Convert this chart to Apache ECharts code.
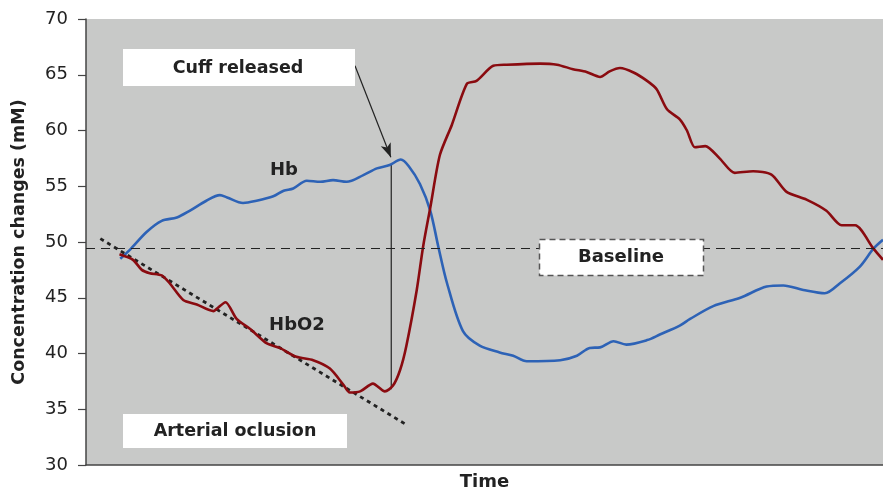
<!DOCTYPE html>
<html>
<head>
<meta charset="utf-8">
<script src="https://cdn.jsdelivr.net/npm/echarts@6/dist/echarts.min.js"></script>
<style>
  html, body { margin: 0; padding: 0; background: #fff; }
  #chart { width: 883px; height: 496px; }
</style>
</head>
<body>
<div id="chart"></div>
<script>
// Deoxygenated haemoglobin (Hb): time (arbitrary units) and concentration (mM)
const hbTime = [4.3, 5.5, 7.6, 9.5, 11.4, 13.0, 15.1, 16.8, 17.7, 19.7, 21.4, 23.5, 24.8, 26.0, 27.7, 29.4, 31.0, 32.7, 34.8, 36.5, 38.1, 39.5, 40.5, 41.9, 43.2, 44.2, 45.3, 47.3, 49.4, 51.9, 53.6, 55.3, 59.5, 61.6, 63.2, 64.5, 66.2, 67.8, 70.4, 72.0, 74.5, 75.8, 78.7, 82.1, 85.4, 87.5, 90.0, 92.7, 94.6, 97.1, 98.8, 100];
const hbValues = [48.5, 49.3, 50.9, 51.9, 52.2, 52.8, 53.7, 54.2, 54.0, 53.5, 53.7, 54.1, 54.6, 54.8, 55.5, 55.4, 55.55, 55.4, 56.0, 56.6, 56.9, 57.4, 56.8, 55.2, 52.8, 49.6, 46.3, 42.0, 40.7, 40.1, 39.8, 39.3, 39.4, 39.8, 40.5, 40.55, 41.1, 40.8, 41.2, 41.7, 42.5, 43.1, 44.25, 45.0, 46.0, 46.1, 45.7, 45.4, 46.3, 47.8, 49.4, 50.2];

// Oxygenated haemoglobin (HbO2)
const hbo2Time = [4.2, 5.9, 7.0, 8.0, 9.5, 10.5, 12.2, 13.9, 16.0, 16.4, 17.5, 18.9, 20.6, 22.7, 24.3, 26.4, 28.5, 30.6, 32.3, 33.1, 34.4, 36.0, 37.5, 38.5, 39.4, 40.2, 41.5, 42.3, 43.2, 44.4, 45.9, 47.8, 49.0, 51.1, 52.8, 57.0, 59.1, 61.1, 62.8, 64.5, 65.7, 67.0, 68.7, 70.4, 71.6, 72.9, 74.5, 75.4, 76.4, 77.7, 79.5, 81.4, 83.7, 86.0, 87.9, 90.4, 92.9, 94.8, 96.5, 98.8, 100];
const hbo2Values = [48.9, 48.4, 47.5, 47.2, 47.0, 46.3, 44.8, 44.4, 43.8, 44.0, 44.6, 43.1, 42.2, 40.9, 40.5, 39.7, 39.4, 38.65, 37.2, 36.5, 36.6, 37.3, 36.6, 37.1, 38.5, 40.7, 45.7, 49.6, 53.1, 57.8, 60.5, 64.2, 64.45, 65.8, 65.9, 66.0, 65.9, 65.5, 65.25, 64.8, 65.3, 65.6, 65.2, 64.45, 63.7, 61.9, 61.0, 60.0, 58.5, 58.6, 57.5, 56.2, 56.35, 56.05, 54.5, 53.8, 52.8, 51.5, 51.5, 49.4, 48.4];

// Trend of HbO2 during arterial occlusion (start / end)
const trendTime = [1.8, 40.0];
const trendValues = [50.3, 33.7];

// Cuff release instant, with Hb and HbO2 levels at that moment
const releaseTime = 38.3;
const releaseValues = [56.9, 36.8];

// Arrow from the "Cuff released" note to the Hb curve
const arrowTime = [33.75, 38.25];
const arrowValues = [65.8, 57.6];

const baselineValue = 49.4;
const yTicks = [30, 35, 40, 45, 50, 55, 60, 65, 70];

const zip = (xs, ys) => xs.map((x, i) => [x, ys[i]]);

const FONT = '"DejaVu Sans", "Liberation Sans", sans-serif';
const TEXT = '#222';

const chart = echarts.init(document.getElementById('chart'), null, { renderer: 'canvas' });

chart.setOption({
  animation: false,
  backgroundColor: '#fff',
  grid: { left: 86, right: 0, top: 19, bottom: 25, show: true, backgroundColor: '#c8c9c8', borderWidth: 0 },
  xAxis: {
    type: 'value', min: 0, max: 100,
    name: 'Time', nameLocation: 'middle', nameGap: 8,
    nameTextStyle: { fontFamily: FONT, fontWeight: 'bold', fontSize: 18, color: TEXT },
    axisLine: { show: true, lineStyle: { color: '#444', width: 1.5 } },
    axisTick: { show: false }, axisLabel: { show: false }, splitLine: { show: false }
  },
  yAxis: {
    type: 'value', min: yTicks[0], max: yTicks[yTicks.length - 1], interval: 5,
    name: 'Concentration changes (mM)', nameLocation: 'middle', nameRotate: 90, nameGap: 58,
    nameTextStyle: { fontFamily: FONT, fontWeight: 'bold', fontSize: 17.5, color: TEXT },
    axisLine: { show: true, lineStyle: { color: '#444', width: 1.5 } },
    axisTick: { show: true, length: 8, lineStyle: { color: '#444', width: 1.2 } },
    axisLabel: { margin: 18, fontFamily: FONT, fontSize: 18, color: TEXT },
    splitLine: { show: false }
  },
  series: [
    {
      name: 'Baseline', type: 'line', data: [], silent: true,
      markLine: {
        silent: true, symbol: ['none', 'none'], label: { show: false },
        lineStyle: { color: '#222', type: [9, 6], width: 1.2 },
        data: [{ yAxis: baselineValue }]
      }
    },
    {
      name: 'Trend', type: 'line', data: zip(trendTime, trendValues), symbol: 'none', silent: true,
      lineStyle: { color: '#222', width: 2.8, type: [4, 4] }, z: 3
    },
    {
      name: 'Release', type: 'line', data: [[releaseTime, releaseValues[0]], [releaseTime, releaseValues[1]]],
      symbol: 'none', silent: true, lineStyle: { color: '#222', width: 1.2 }, z: 3,
      markLine: {
        silent: true, symbol: ['none', 'arrow'], symbolSize: [8, 14], label: { show: false },
        itemStyle: { color: '#222' },
        lineStyle: { color: '#222', width: 1.2, type: 'solid' },
        data: [[{ coord: [arrowTime[0], arrowValues[0]] }, { coord: [arrowTime[1], arrowValues[1]] }]]
      }
    },
    {
      name: 'Hb', type: 'line', data: zip(hbTime, hbValues), symbol: 'none', smooth: 0.3,
      lineStyle: { color: '#2d62b6', width: 2.6 }, z: 4
    },
    {
      name: 'HbO2', type: 'line', data: zip(hbo2Time, hbo2Values), symbol: 'none', smooth: 0.25,
      lineStyle: { color: '#8a0b10', width: 2.6 }, z: 4
    }
  ],
  graphic: [
    { type: 'rect', shape: { x: 123, y: 49, width: 232, height: 37 }, style: { fill: '#fff' }, z: 10 },
    { type: 'text', x: 238, y: 68, style: { text: 'Cuff released', align: 'center', verticalAlign: 'middle', textAlign: 'center', textVerticalAlign: 'middle', font: 'bold 17.5px ' + FONT, fill: TEXT }, z: 11 },
    { type: 'rect', shape: { x: 123, y: 414, width: 224, height: 34 }, style: { fill: '#fff' }, z: 10 },
    { type: 'text', x: 235, y: 431, style: { text: 'Arterial oclusion', align: 'center', verticalAlign: 'middle', textAlign: 'center', textVerticalAlign: 'middle', font: 'bold 17.5px ' + FONT, fill: TEXT }, z: 11 },
    { type: 'rect', shape: { x: 539.5, y: 239.5, width: 164, height: 36 }, style: { fill: '#fff', stroke: '#555', lineWidth: 1.5, lineDash: [6, 4] }, z: 10 },
    { type: 'text', x: 621, y: 257.5, style: { text: 'Baseline', align: 'center', verticalAlign: 'middle', textAlign: 'center', textVerticalAlign: 'middle', font: 'bold 18px ' + FONT, fill: TEXT }, z: 11 },
    { type: 'text', x: 284, y: 170, style: { text: 'Hb', align: 'center', verticalAlign: 'middle', textAlign: 'center', textVerticalAlign: 'middle', font: 'bold 18px ' + FONT, fill: TEXT }, z: 11 },
    { type: 'text', x: 297, y: 325, style: { text: 'HbO2', align: 'center', verticalAlign: 'middle', textAlign: 'center', textVerticalAlign: 'middle', font: 'bold 18px ' + FONT, fill: TEXT }, z: 11 }
  ]
});
</script>
</body>
</html>
